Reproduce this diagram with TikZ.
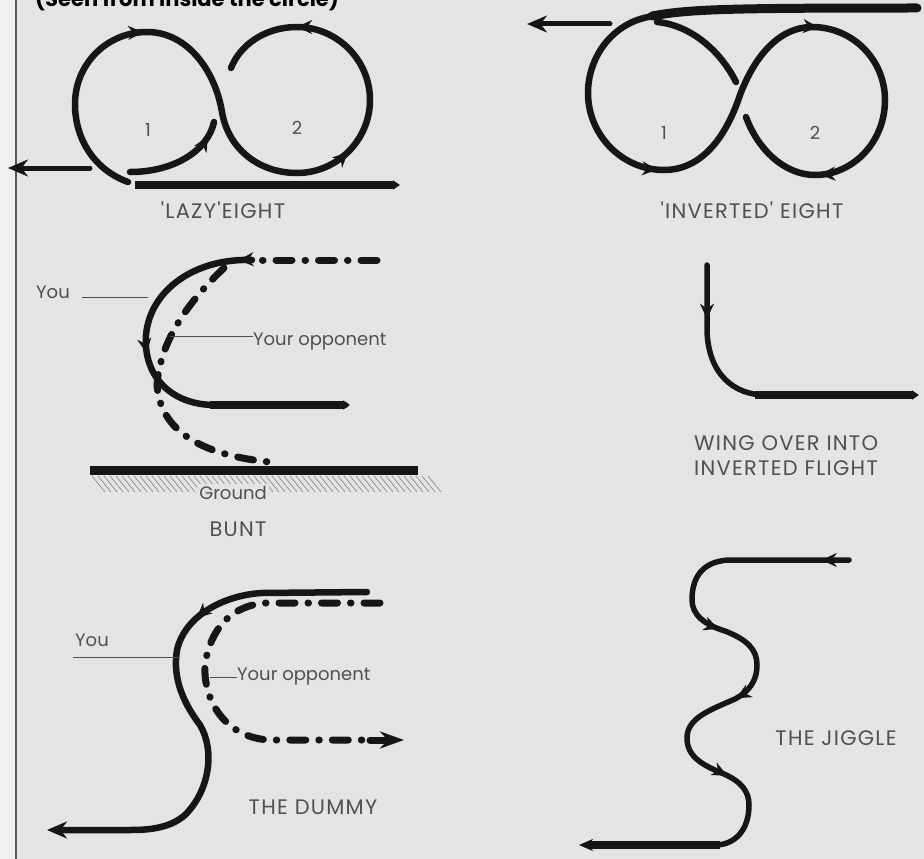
\documentclass[tikz,border=0pt]{standalone}
\usepackage{fontspec}
\newfontfamily\lblfont{Poppins}
\newfontfamily\capsfont[LetterSpace=6]{Poppins}
\usetikzlibrary{arrows.meta,decorations.markings}
\definecolor{bg}{HTML}{E4E4E4}
\definecolor{strip}{HTML}{F0F0F0}
\definecolor{ink}{HTML}{161616}
\definecolor{txt}{HTML}{505050}
\definecolor{hatchc}{HTML}{8C8C8C}
\tikzset{
  fpath/.style={line width=6.5pt, color=ink, line cap=round},
  dpath/.style={line width=7pt, color=ink, line cap=round, dash pattern=on 16pt off 13pt on 0.5pt off 13pt},
  lbl/.style={text=txt, font=\lblfont\fontsize{18}{24}\selectfont, inner sep=0pt},
  capslbl/.style={text=txt, font=\capsfont\fontsize{21}{26}\selectfont, inner sep=0pt},
  arr/.style={postaction={decorate,decoration={markings,mark=at position #1 with {\arrow{Stealth[length=15pt,width=14pt]}}}}},
  endtip/.style={-{Stealth[length=20pt,width=17pt]}},
  leader/.style={line width=1pt, draw=txt},
}
\begin{document}
\begin{tikzpicture}[x=1pt,y=-1pt]
\useasboundingbox (0,0) rectangle (924,859);
\fill[bg] (0,0) rectangle (924,859);
\fill[strip] (0,0) rectangle (16,859);
\draw[line width=2pt, draw=black!65] (16,0) -- (16,859);
\node[anchor=base west, inner sep=0pt, text=black, font=\lblfont\bfseries\fontsize{21}{21}\selectfont] (hdr) at (35,7) {(Seen from inside the circle)};

% ---------- LAZY EIGHT ----------
\draw[line width=8pt, color=ink, -{Triangle[length=7pt,width=9pt]}] (135,185) -- (400,185);
\draw[fpath, arr=0.28, arr=0.66, arr=0.89]
  (128,182) .. controls (95,170) and (75,140) .. (75,104)
  .. controls (75,64) and (107,32) .. (147,32)
  .. controls (187,32) and (215,70) .. (222,112)
  .. controls (228,148) and (258,173) .. (297,173)
  .. controls (337,173) and (370,140) .. (370,100)
  .. controls (370,60) and (337,27) .. (297,27)
  .. controls (265,27) and (240,45) .. (231,68);
\draw[fpath, arr=0.85] (130,172) .. controls (175,172) and (208,150) .. (214,122);
\draw[fpath, line width=5pt, endtip] (90,168) -- (8,168);
\node[lbl] (l1) at (148,130) {1};
\node[lbl] (l2) at (297,128) {2};
\node[capslbl] (lazy) at (223,210) {'LAZY'EIGHT};

% ---------- INVERTED EIGHT ----------
\draw[line width=9pt, color=ink, line cap=round] (652,16) .. controls (690,9) and (730,8) .. (917,8);
\draw[fpath, arr=0.29, arr=0.59, arr=0.87]
  (655,16) .. controls (615,20) and (588,55) .. (588,93)
  .. controls (588,135) and (622,170) .. (664,170)
  .. controls (700,170) and (725,140) .. (740,95)
  .. controls (755,55) and (780,27) .. (812,27)
  .. controls (853,27) and (885,60) .. (885,100)
  .. controls (885,142) and (853,175) .. (815,175)
  .. controls (785,175) and (758,150) .. (746,117);
\draw[fpath] (736,82) .. controls (720,50) and (690,25) .. (657,22);
\draw[fpath, line width=5pt, endtip] (610,24) -- (527,24);
\node[lbl] (i1) at (664,133) {1};
\node[lbl] (i2) at (815,133) {2};
\node[capslbl] (inv) at (752,210) {'INVERTED' EIGHT};

% ---------- BUNT ----------
\draw[dpath] (377,260) -- (252,260);
\draw[fpath, arr=0.035, arr=0.42]
  (252,260) .. controls (195,258) and (150,290) .. (146,335)
  .. controls (143,375) and (170,405) .. (215,405) -- (345,405);
\draw[line width=8pt, color=ink, -{Triangle[length=7pt,width=9pt]}] (210,405) -- (350,405);
\draw[dpath]
  (224,268) .. controls (190,300) and (160,340) .. (157,385)
  .. controls (160,430) and (200,455) .. (270,462);
\draw[line width=9pt, color=ink] (90,470) -- (418,470);
\foreach \x in {92,98,...,428} \draw[hatchc, line width=0.7pt] (\x,476) -- ++(13,16);
\node[lbl, fill=bg, inner sep=2pt] (ground) at (233,493) {Ground};
\node[lbl] (you1) at (53,292) {You};
\coordinate (you1a) at (82,297);
\coordinate (you1b) at (148,297);
\draw[leader] (you1a) -- (you1b);
\node[lbl, anchor=west] (opp1) at (253,342) {Your opponent};
\coordinate (opp1a) at (170,336);
\draw[leader] (opp1a) -- (opp1.west |- opp1a);
\node[capslbl] (bunt) at (238,529) {BUNT};

% ---------- WING OVER ----------
\draw[fpath, line width=5.5pt, arr=0.33]
  (707,265) -- (707,330) .. controls (708,375) and (735,395) .. (765,395);
\draw[line width=8pt, color=ink, -{Triangle[length=7pt,width=9pt]}] (755,395) -- (919,395);
\node[capslbl, anchor=west] (wing1) at (694,443) {WING OVER INTO};
\node[capslbl, anchor=west] (wing2) at (694,468) {INVERTED FLIGHT};

% ---------- DUMMY ----------
\draw[fpath, arr=0.33, endtip]
  (367,592) -- (262,593) .. controls (225,595) and (185,615) .. (177,650)
  .. controls (172,680) and (185,705) .. (200,725)
  .. controls (215,750) and (210,790) .. (185,815)
  .. controls (170,828) and (150,830) .. (130,830) -- (47,830);
\draw[dpath]
  (380,603) -- (265,603) .. controls (230,606) and (210,630) .. (205,665)
  .. controls (203,700) and (225,738) .. (270,740) -- (372,740);
\draw[fpath, line width=7pt, -{Stealth[length=24pt,width=17pt]}] (370,740) -- (404,740);
\node[lbl] (you2) at (92,640) {You};
\coordinate (you2a) at (73,657);
\coordinate (you2b) at (180,657);
\draw[leader] (you2a) -- (you2b);
\node[lbl, anchor=west] (opp2) at (237,677) {Your opponent};
\coordinate (opp2a) at (210,677);
\draw[leader] (opp2a) -- (opp2.west);
\node[capslbl] (dummy) at (313,807) {THE DUMMY};

% ---------- JIGGLE ----------
\draw[fpath, line width=5.5pt, arr=0.05, arr=0.41, arr=0.59, arr=0.82]
  (849,560) -- (728,560)
  .. controls (700,562) and (692,580) .. (692,600)
  .. controls (692,615) and (705,625) .. (725,631)
  .. controls (748,640) and (757,650) .. (757,665)
  .. controls (757,682) and (748,692) .. (735,699)
  .. controls (710,710) and (687,718) .. (687,738)
  .. controls (687,758) and (705,766) .. (724,774)
  .. controls (742,782) and (749,792) .. (749,805)
  .. controls (749,830) and (735,845) .. (715,845);
\draw[line width=8pt, color=ink, -{Stealth[length=14pt,width=12pt]}] (720,845) -- (579,845);
\node[capslbl] (jiggle) at (836,738) {THE JIGGLE};
\end{tikzpicture}
\end{document}
